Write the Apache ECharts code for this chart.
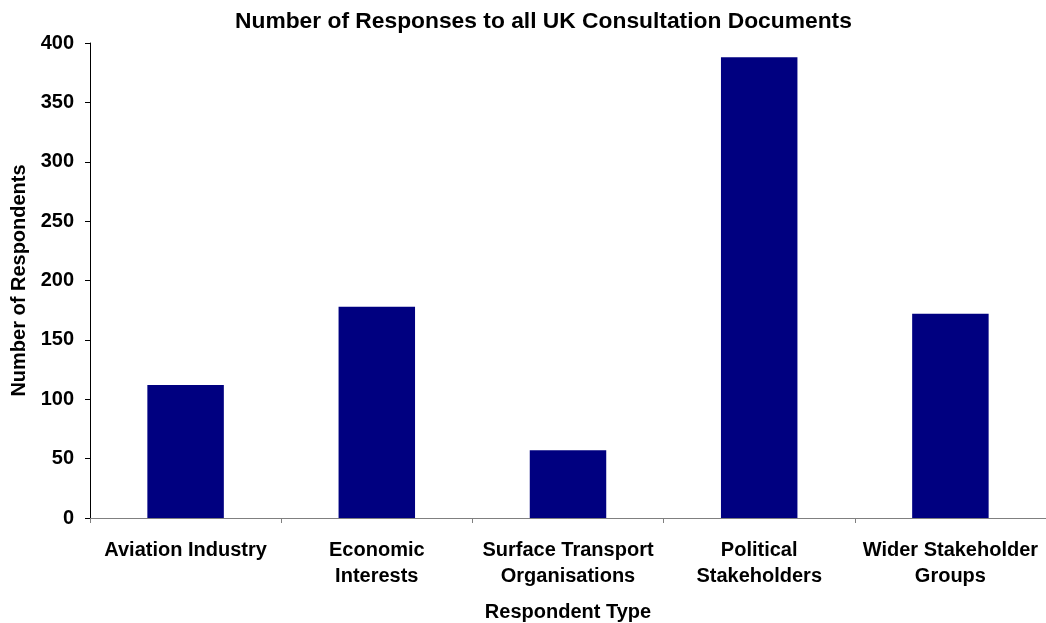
<!DOCTYPE html>
<html>
<head>
<meta charset="utf-8">
<script src="https://cdn.jsdelivr.net/npm/echarts@6/dist/echarts.min.js"></script>
<style>
  html, body { margin: 0; padding: 0; background: #fff; }
  #chart { width: 1046px; height: 623px; }
</style>
</head>
<body>
<div id="chart"></div>
<script>
// respondent types (tick labels, broken as in the original)
var categories = [
  'Aviation Industry',
  'Economic\nInterests',
  'Surface Transport\nOrganisations',
  'Political\nStakeholders',
  'Wider Stakeholder\nGroups'
]
// number of respondents per type
var respondents = [112, 178, 57, 388, 172]
var yTicks = { min: 0, max: 400, interval: 50 }

var font = 'Arial, "Liberation Sans", sans-serif'
var myChart = echarts.init(document.getElementById('chart'))
myChart.setOption({
  animation: false,
  title: {
    text: 'Number of Responses to all UK Consultation Documents',
    left: 230,
    top: 5,
    textStyle: { fontFamily: font, fontSize: 22.8, fontWeight: 'bold', color: '#000' }
  },
  grid: { left: 90, right: 0, top: 43, bottom: 105, outerBoundsMode: 'none', containLabel: false },
  xAxis: {
    type: 'category',
    data: categories,
    name: 'Respondent Type',
    nameLocation: 'middle',
    nameGap: 84,
    nameTextStyle: { fontFamily: font, fontSize: 20, fontWeight: 'bold', color: '#000' },
    axisLine: { lineStyle: { color: '#808080', width: 1 } },
    axisTick: { show: true, length: 5, lineStyle: { color: '#808080' } },
    axisLabel: {
      interval: 0,
      margin: 19,
      fontFamily: font,
      fontSize: 20,
      fontWeight: 'bold',
      color: '#000',
      lineHeight: 26
    }
  },
  yAxis: {
    type: 'value',
    min: yTicks.min,
    max: yTicks.max,
    interval: yTicks.interval,
    name: 'Number of Respondents',
    nameLocation: 'middle',
    nameGap: 61,
    nameTextStyle: { fontFamily: font, fontSize: 20, fontWeight: 'bold', color: '#000' },
    axisLine: { show: true, lineStyle: { color: '#000', width: 1 } },
    axisTick: { show: true, length: 5, lineStyle: { color: '#000' } },
    splitLine: { show: false },
    axisLabel: {
      margin: 16,
      fontFamily: font,
      fontSize: 20,
      fontWeight: 'bold',
      color: '#000'
    }
  },
  series: [{
    type: 'bar',
    data: respondents,
    barWidth: '40%',
    itemStyle: { color: '#000080' }
  }]
})
</script>
</body>
</html>
